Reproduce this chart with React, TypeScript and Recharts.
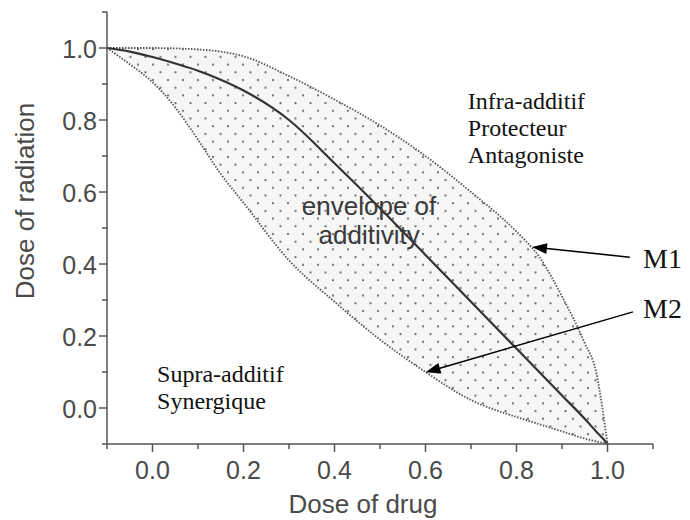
import React from "react";
import { Area, ComposedChart, Line, ReferenceDot, ReferenceLine, XAxis, YAxis } from "recharts";

// dose of drug (x) shared by the three curves
const doseDrug = [-0.1, -0.05, 0, 0.05, 0.1, 0.15, 0.2, 0.3, 0.4, 0.5, 0.6, 0.7, 0.8, 0.85, 0.9, 0.95, 0.975, 0.99, 1.0];
// M1 (upper dotted edge)
const curveM1 = [1.0, 1.0, 1.0, 0.999, 0.996, 0.99, 0.977, 0.922, 0.857, 0.785, 0.7, 0.6, 0.49, 0.42, 0.31, 0.18, 0.1, -0.01, -0.1];
// additivity line (solid)
const curveAdd = [1.0, 0.99, 0.975, 0.957, 0.937, 0.912, 0.882, 0.8, 0.68, 0.555, 0.425, 0.295, 0.165, 0.1, 0.035, -0.03, -0.065, -0.085, -0.1];
// M2 (lower dotted edge)
const curveM2 = [1.0, 0.955, 0.905, 0.835, 0.745, 0.65, 0.57, 0.41, 0.295, 0.19, 0.1, 0.022, -0.025, -0.045, -0.065, -0.085, -0.093, -0.097, -0.1];

const axisTicks = [-0.1, 0, 0.1, 0.2, 0.3, 0.4, 0.5, 0.6, 0.7, 0.8, 0.9, 1.0, 1.1];

const notes = [
  { x: 0.693, y: 0.831, lines: ["Infra-additif", "Protecteur", "Antagoniste"], serif: true, size: 24, anchor: "start" },
  { x: 0.01, y: 0.072, lines: ["Supra-additif", "Synergique"], serif: true, size: 24, anchor: "start" },
  { x: 0.476, y: 0.536, lines: ["envelope of", "additivity"], serif: false, size: 26, anchor: "middle" },
  { x: 1.078, y: 0.389, lines: ["M1"], serif: true, size: 28, anchor: "start" },
  { x: 1.078, y: 0.25, lines: ["M2"], serif: true, size: 28, anchor: "start" },
];

const arrows = [
  { from: { x: 1.049, y: 0.419 }, to: { x: 0.834, y: 0.447 } },
  { from: { x: 1.056, y: 0.267 }, to: { x: 0.6, y: 0.099 } },
];

const data = doseDrug.map((x, i) => ({
  x,
  m1: curveM1[i],
  add: curveAdd[i],
  m2: curveM2[i],
  band: [curveM2[i], curveM1[i]],
}));

const SANS = "'Liberation Sans', Arial, sans-serif";
const SERIF = "'Liberation Serif', 'Times New Roman', serif";
const AXIS = "#555";

const isMajor = (v: number) => {
  const k = Math.round(v * 10);
  return k >= 0 && k <= 10 && k % 2 === 0;
};

const XTick = (props: any) => {
  const { x, y, payload } = props;
  const major = isMajor(payload.value);
  return (
    <g>
      <line x1={x} x2={x} y1={y} y2={y + (major ? 8 : 5)} stroke={AXIS} strokeWidth={1.5} />
      {major && (
        <text x={x} y={y + 35} textAnchor="middle" fontFamily={SANS} fontSize={25} fill="#4a4a4a">
          {payload.value.toFixed(1)}
        </text>
      )}
    </g>
  );
};

const YTick = (props: any) => {
  const { x, y, payload } = props;
  const major = isMajor(payload.value);
  return (
    <g>
      <line x1={x - (major ? 8 : 5)} x2={x} y1={y} y2={y} stroke={AXIS} strokeWidth={1.5} />
      {major && (
        <text x={x - 10} y={y + 10} textAnchor="end" fontFamily={SANS} fontSize={25} fill="#4a4a4a">
          {payload.value.toFixed(1)}
        </text>
      )}
    </g>
  );
};

const Arrow = (props: any) => {
  const { x1, y1, x2, y2 } = props;
  const ang = Math.atan2(y2 - y1, x2 - x1);
  const len = 15;
  const half = 5.5;
  const bx = x2 - len * Math.cos(ang);
  const by = y2 - len * Math.sin(ang);
  const px = -Math.sin(ang) * half;
  const py = Math.cos(ang) * half;
  return (
    <g>
      <line x1={x1} y1={y1} x2={bx} y2={by} stroke="#000" strokeWidth={1.5} />
      <polygon points={`${x2},${y2} ${bx + px},${by + py} ${bx - px},${by - py}`} fill="#000" />
    </g>
  );
};

const noteShape = (n: (typeof notes)[number]) => (p: any) => (
  <text
    x={p.cx}
    y={p.cy}
    textAnchor={n.anchor as any}
    fontFamily={n.serif ? SERIF : SANS}
    fontSize={n.size}
    fill={n.serif ? "#111" : "#3a3a3a"}
  >
    {n.lines.map((l, i) => (
      <tspan key={l} x={p.cx} dy={i === 0 ? 0 : n.size * 1.13}>
        {l}
      </tspan>
    ))}
  </text>
);

export default function App() {
  return (
    <div style={{ position: "absolute", left: 0, top: 0, background: "#fff" }}>
      <ComposedChart width={690} height={520} data={data} margin={{ top: 12, right: 37, bottom: 0, left: 0 }}>
        <defs>
          <pattern id="envDots" width="15" height="15.4" patternUnits="userSpaceOnUse">
            <rect width="15" height="15.4" fill="#f6f6f6" />
            <circle cx="3" cy="3" r="1.15" fill="#6e6e6e" />
            <circle cx="10.5" cy="10.7" r="1.15" fill="#6e6e6e" />
          </pattern>
        </defs>
        <XAxis
          type="number"
          dataKey="x"
          domain={[-0.1, 1.1]}
          ticks={axisTicks}
          interval={0}
          tickSize={0}
          tickMargin={0}
          height={76}
          axisLine={{ stroke: AXIS, strokeWidth: 1.5 }}
          tick={<XTick />}
          label={{
            value: "Dose of drug",
            position: "insideBottom",
            offset: 7,
            dx: -17,
            style: { fontFamily: SANS, fontSize: 26, fill: "#4a4a4a" },
          }}
        />
        <YAxis
          type="number"
          domain={[-0.1, 1.1]}
          ticks={axisTicks}
          interval={0}
          tickSize={0}
          tickMargin={0}
          width={107}
          axisLine={{ stroke: AXIS, strokeWidth: 1.5 }}
          tick={<YTick />}
          label={{
            value: "Dose of radiation",
            angle: -90,
            position: "center",
            dx: -29,
            dy: -27,
            style: { fontFamily: SANS, fontSize: 26, fill: "#4a4a4a" },
          }}
        />
        <Area
          dataKey="band"
          type="monotone"
          stroke="none"
          fill="url(#envDots)"
          fillOpacity={1}
          isAnimationActive={false}
        />
        <Line dataKey="m1" type="monotone" stroke="#555" strokeWidth={1.8} strokeDasharray="1.5 1.5" dot={false} isAnimationActive={false} />
        <Line dataKey="m2" type="monotone" stroke="#555" strokeWidth={1.8} strokeDasharray="1.5 1.5" dot={false} isAnimationActive={false} />
        <Line dataKey="add" type="monotone" stroke="#333" strokeWidth={2.2} dot={false} isAnimationActive={false} />
        {notes.map((n) => (
          <ReferenceDot key={n.lines[0]} x={n.x} y={n.y} r={0} ifOverflow="visible" shape={noteShape(n)} />
        ))}
        {arrows.map((a, i) => (
          <ReferenceLine key={i} segment={[a.from, a.to]} ifOverflow="visible" shape={<Arrow />} />
        ))}
      </ComposedChart>
    </div>
  );
}
